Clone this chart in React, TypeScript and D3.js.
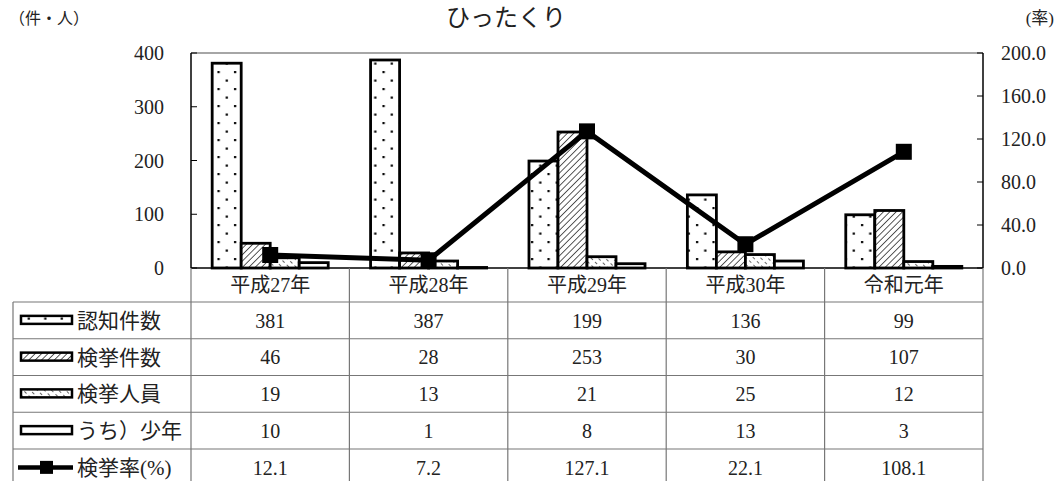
import * as d3 from "d3";
import React from "react";

const categories = ["平成27年", "平成28年", "平成29年", "平成30年", "令和元年"];
const ninchi = [381, 387, 199, 136, 99];
const kenkyoKensu = [46, 28, 253, 30, 107];
const kenkyoJinin = [19, 13, 21, 25, 12];
const shonen = [10, 1, 8, 13, 3];
const rate = [12.1, 7.2, 127.1, 22.1, 108.1];
const leftTicks = [0, 100, 200, 300, 400];
const rightTicks = [0, 40, 80, 120, 160, 200];

const seriesNames = ["認知件数", "検挙件数", "検挙人員", "うち）少年"];
const seriesFills = ["url(#dots)", "url(#hatch)", "url(#backhatch)", "#fff"];
const barSeries = [ninchi, kenkyoKensu, kenkyoJinin, shonen];

const FONT = "'Liberation Serif', 'Noto Sans CJK JP', serif";

const W = 1058, H = 481;
const ml = 191, mr = 983, mt = 53, mb = 268;
const tableLeft = 13;
const tableTop = 302;
const rowH = 36.75;

const App: React.FC = () => {
  const x0 = d3.scaleBand<string>().domain(categories).range([ml, mr]).padding(0);
  const x1 = d3.scaleBand<number>().domain([0, 1, 2, 3]).range([0, x0.bandwidth()]).paddingInner(0).paddingOuter(0.73);
  const y = d3.scaleLinear().domain([0, 400]).range([mb, mt]);
  const y2 = d3.scaleLinear().domain([0, 200]).range([mb, mt]);

  const cx = (i: number) => (x0(categories[i]) as number) + x0.bandwidth() / 2;
  const line = d3.line<number>().x((_, i) => cx(i)).y((d) => y2(d));

  const rows = [
    ...barSeries.map((s, k) => ({ name: seriesNames[k], vals: s.map(String), k })),
    { name: "検挙率(%)", vals: rate.map((d) => d.toFixed(1)), k: 4 },
  ];
  const tableBottom = tableTop + rowH * rows.length;
  const boundaries = [...categories.map((c) => x0(c) as number), mr];

  return (
    <svg width={W} height={H} style={{ position: "absolute", left: 0, top: 0, background: "#fff" }} fontFamily={FONT}>
      <defs>
        <pattern id="dots" width={16.5} height={17} patternUnits="userSpaceOnUse">
          <rect width={16.5} height={17} fill="#fff" />
          <rect x={3} y={3} width={2.2} height={2.2} fill="#000" />
          <rect x={11.2} y={11.5} width={2.2} height={2.2} fill="#000" />
        </pattern>
        <pattern id="hatch" width={4.5} height={4.5} patternUnits="userSpaceOnUse" patternTransform="rotate(45)">
          <rect width={4.5} height={4.5} fill="#fff" />
          <line x1={0} y1={0} x2={0} y2={4.5} stroke="#000" strokeWidth={1.3} />
        </pattern>
        <pattern id="backhatch" width={5} height={6} patternUnits="userSpaceOnUse" patternTransform="rotate(-45)">
          <rect width={5} height={6} fill="#fff" />
          <line x1={0} y1={0} x2={0} y2={3} stroke="#000" strokeWidth={1.2} />
        </pattern>
      </defs>

      {/* titles */}
      <text x={506} y={26} fontSize={24} textAnchor="middle" fill="#222">ひったくり</text>
      <text x={9} y={24} fontSize={16} fill="#222">（件・人）</text>
      <text x={1054} y={24} fontSize={17} textAnchor="end" fill="#222">(率)</text>

      {/* plot frame */}
      <line x1={ml} x2={mr} y1={mt} y2={mt} stroke="#888" strokeWidth={1.5} />
      <line x1={ml} x2={ml} y1={mt} y2={mb} stroke="#000" strokeWidth={1.5} />
      <line x1={mr} x2={mr} y1={mt} y2={mb} stroke="#000" strokeWidth={1.5} />

      {leftTicks.map((t) => (
        <g key={"l" + t}>
          <line x1={ml} x2={ml + 6} y1={y(t)} y2={y(t)} stroke="#000" />
          <text x={164} y={y(t)} dy="0.35em" fontSize={20} textAnchor="end" fill="#222">{t}</text>
        </g>
      ))}
      {rightTicks.map((t) => (
        <g key={"r" + t}>
          <line x1={mr - 6} x2={mr} y1={y2(t)} y2={y2(t)} stroke="#000" />
          <text x={1001} y={y2(t)} dy="0.35em" fontSize={20} fill="#222">{t.toFixed(1)}</text>
        </g>
      ))}

      {/* bars */}
      {barSeries.map((s, k) =>
        s.map((v, i) => (
          <rect
            key={k + "-" + i}
            x={(x0(categories[i]) as number) + (x1(k) as number)}
            y={y(v)}
            width={x1.bandwidth()}
            height={mb - y(v)}
            fill={seriesFills[k]}
            stroke="#000"
            strokeWidth={2.8}
          />
        ))
      )}

      {/* rate line */}
      <path d={line(rate) || ""} fill="none" stroke="#000" strokeWidth={5} />
      {rate.map((v, i) => (
        <rect key={"m" + i} x={cx(i) - 8} y={y2(v) - 8} width={16} height={16} fill="#000" />
      ))}

      {/* table */}
      <line x1={ml} x2={mr} y1={mb} y2={mb} stroke="#000" strokeWidth={1.5} />
      {boundaries.map((b, i) => (
        <line key={"v" + i} x1={b} x2={b} y1={mb} y2={tableBottom} stroke="#777" strokeWidth={1.2} />
      ))}
      <line x1={tableLeft} x2={tableLeft} y1={tableTop} y2={tableBottom} stroke="#777" strokeWidth={1.2} />
      {d3.range(rows.length + 1).map((r) => (
        <line key={"h" + r} x1={tableLeft} x2={mr} y1={tableTop + r * rowH} y2={tableTop + r * rowH} stroke="#777" strokeWidth={1.2} />
      ))}
      {categories.map((c, i) => (
        <text key={c} x={cx(i)} y={(mb + tableTop) / 2} dy="0.36em" fontSize={20} textAnchor="middle" fill="#222">{c}</text>
      ))}
      {rows.map((row, r) => {
        const cy = tableTop + rowH * (r + 0.5);
        return (
          <g key={row.name}>
            {row.k < 4 ? (
              <rect x={21} y={cy - 4.5} width={51} height={8} fill={seriesFills[row.k]} stroke="#000" strokeWidth={2.5} />
            ) : (
              <g>
                <line x1={18} x2={73} y1={cy} y2={cy} stroke="#000" strokeWidth={4.5} />
                <rect x={40} y={cy - 6.5} width={13} height={13} fill="#000" />
              </g>
            )}
            <text x={77} y={cy} dy="0.36em" fontSize={21} fill="#222">{row.name}</text>
            {row.vals.map((v, i) => (
              <text key={i} x={cx(i)} y={cy} dy="0.36em" fontSize={20} textAnchor="middle" fill="#222">{v}</text>
            ))}
          </g>
        );
      })}
    </svg>
  );
};

export default App;
